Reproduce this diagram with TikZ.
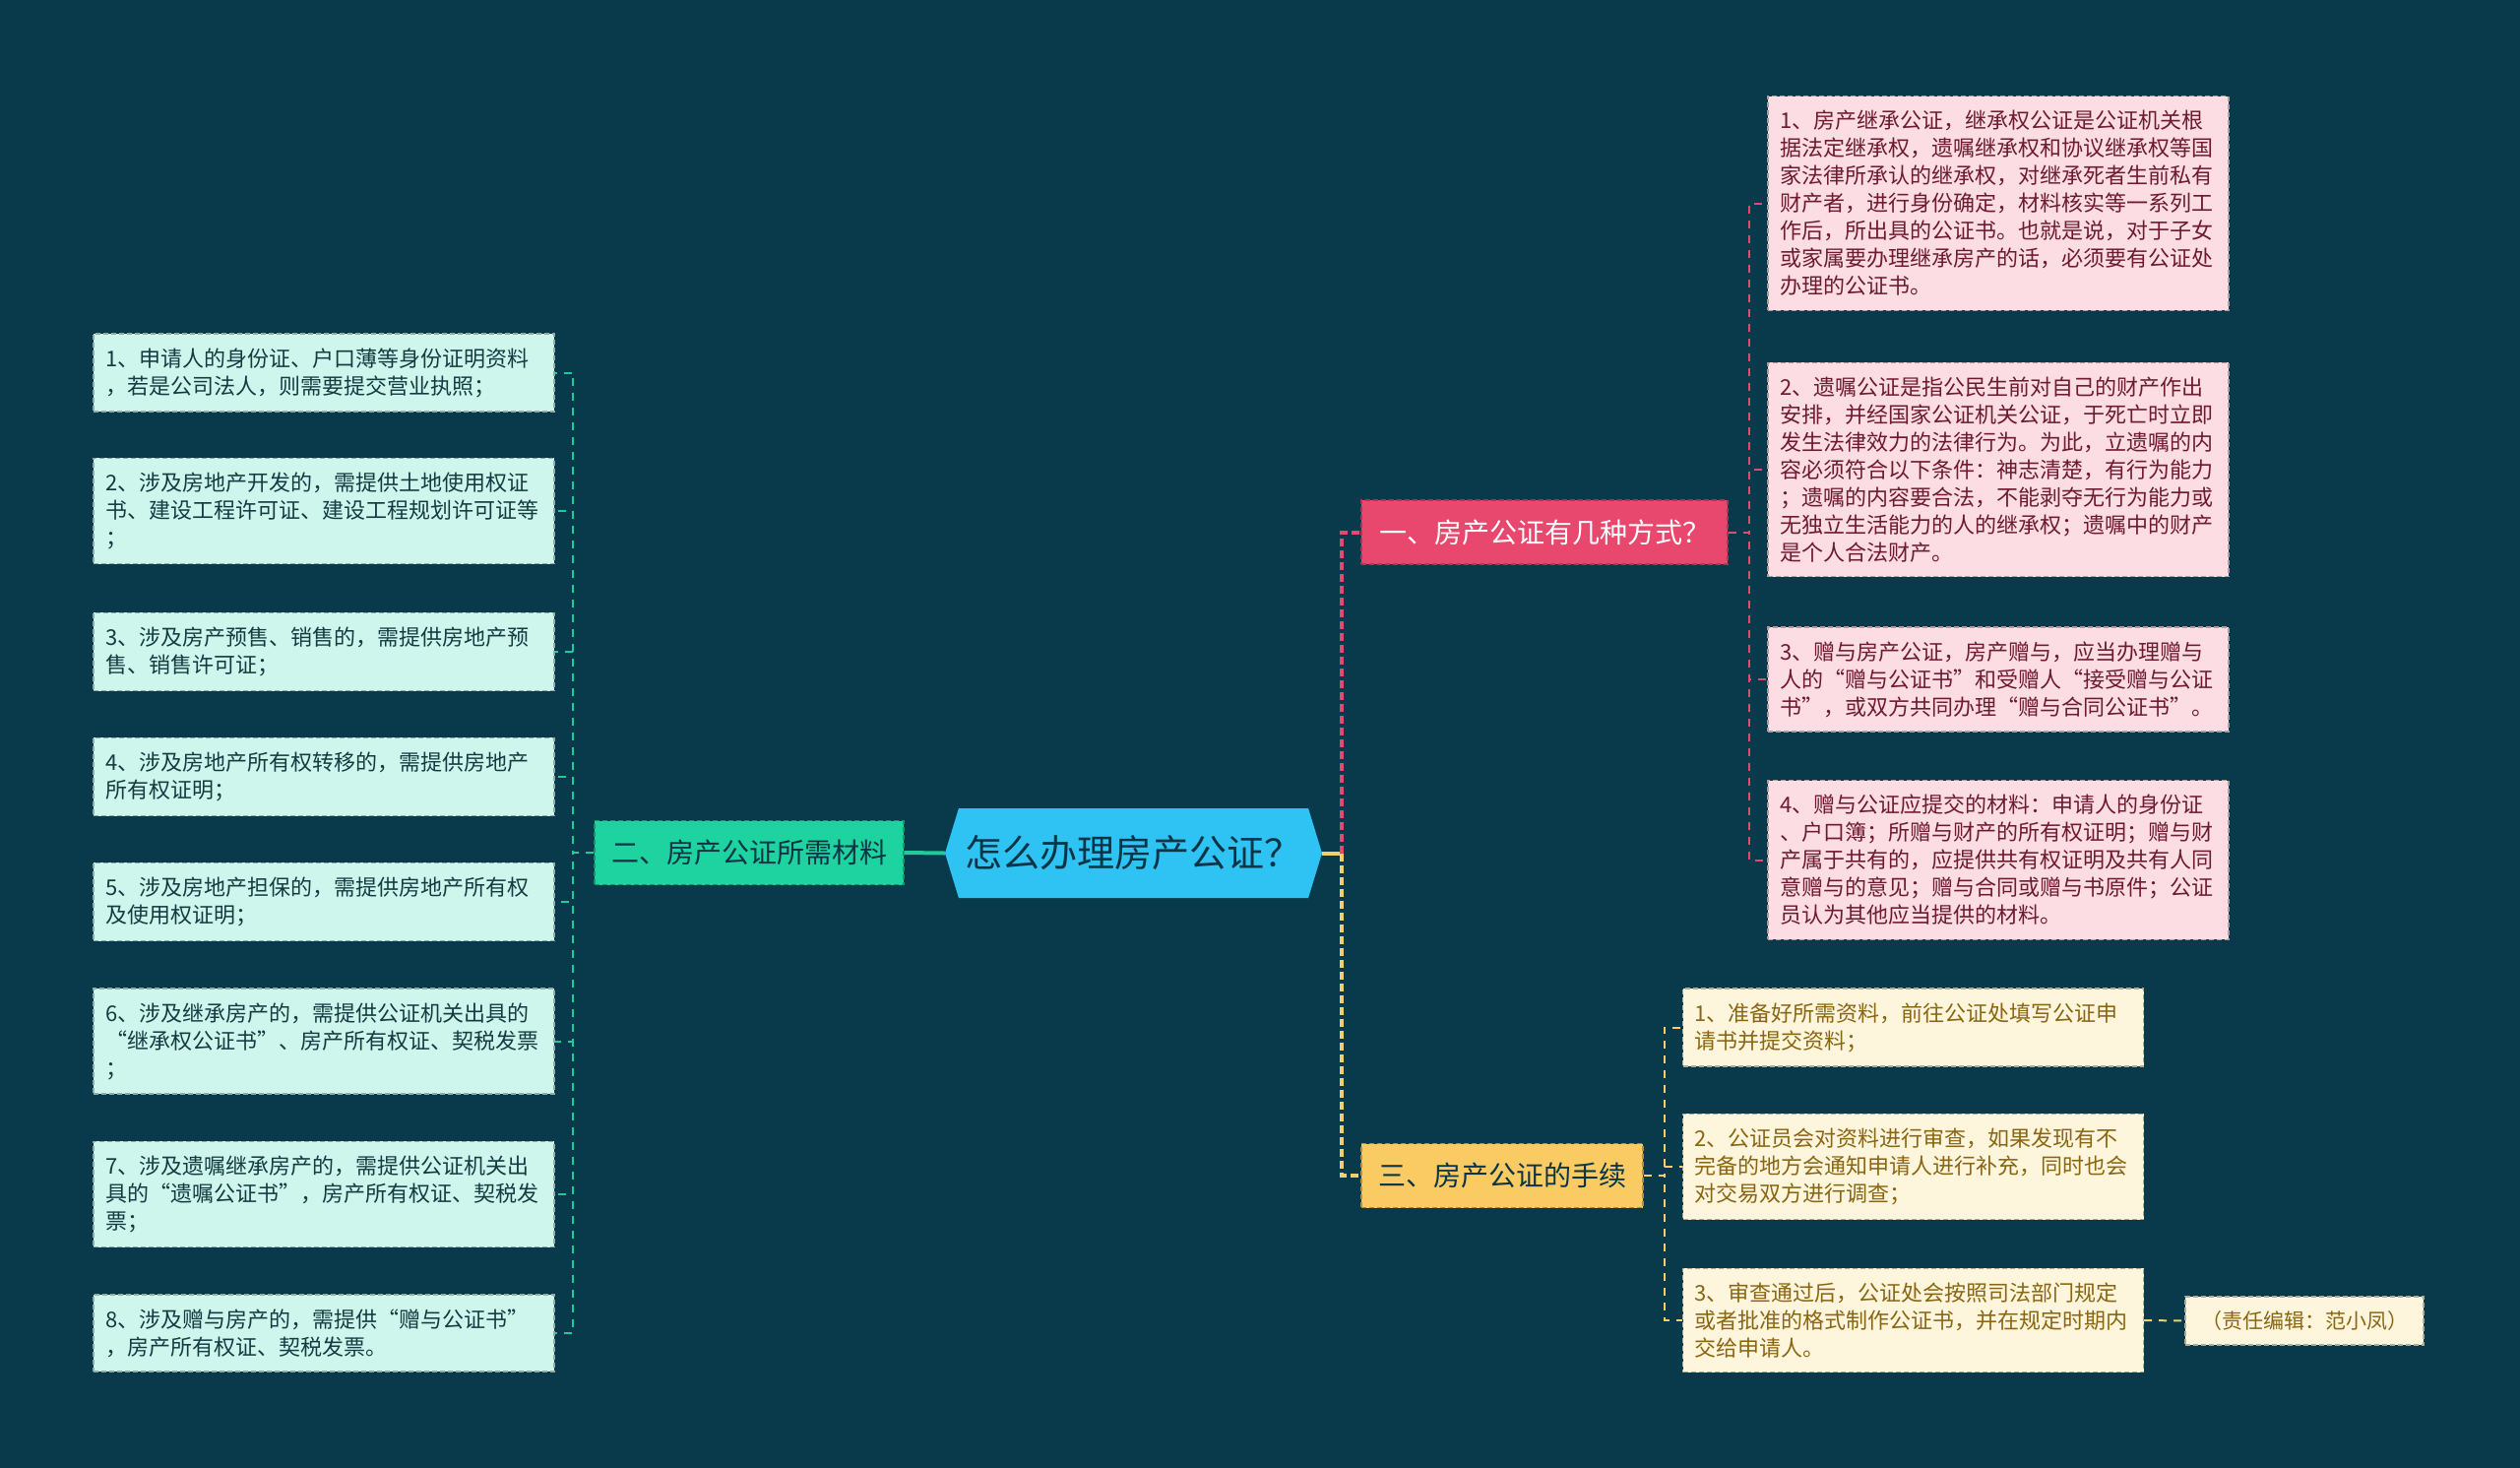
\documentclass[tikz,border=0pt]{standalone}
\usepackage{fontspec}
\setmainfont{Noto Sans CJK SC}
\usetikzlibrary{shapes.symbols}

\definecolor{bgblue}{HTML}{083A4C}
\definecolor{rootfill}{HTML}{2EC3F2}
\definecolor{inkdark}{HTML}{0B3446}
\definecolor{greenfill}{HTML}{1ED39F}
\definecolor{greenline}{HTML}{22C99A}
\definecolor{mintfill}{HTML}{CFF6EC}
\definecolor{mintink}{HTML}{123C42}
\definecolor{pinkfill}{HTML}{E8476E}
\definecolor{pinkline}{HTML}{DE4A72}
\definecolor{rosefill}{HTML}{FCDDE3}
\definecolor{roseink}{HTML}{6E1A30}
\definecolor{goldfill}{HTML}{FACB63}
\definecolor{goldline}{HTML}{F3CE6A}
\definecolor{creamfill}{HTML}{FDF5DC}
\definecolor{creamink}{HTML}{8A6612}

\begin{document}
\begin{tikzpicture}[x=1pt,y=-1pt,
  leaf/.style={line width=1.2pt,dash pattern=on 5pt off 3pt,align=left,
    text width=444pt,inner xsep=12pt,inner ysep=14.5pt,
    font=\fontsize{22}{28}\selectfont},
  mintleaf/.style={leaf,fill=mintfill,draw=mintfill!70!black,text=mintink},
  roseleaf/.style={leaf,fill=rosefill,draw=rosefill!70!black,text=roseink},
  creamleaf/.style={leaf,fill=creamfill,draw=creamfill!70!black,text=creamink},
  branch/.style={minimum height=65pt,inner sep=0pt,line width=1.2pt,
    dash pattern=on 5pt off 3pt,font=\fontsize{28}{34}\selectfont},
  trunk/.style={line width=4pt,dash pattern=on 8pt off 4pt},
  twig/.style={line width=2pt,dash pattern=on 8pt off 7pt}]

  \fill[bgblue] (0,0) rectangle (2560,1491);
  \useasboundingbox (0,0) rectangle (2560,1491);

  % centre and the three branches
  \node[shape=signal,signal to=west and east,signal pointer angle=146,
    fill=rootfill,text=inkdark,minimum width=383pt,minimum height=91pt,
    inner sep=0pt,font=\fontsize{38}{42}\selectfont] (root) at (1151.5,866.5) {怎么办理房产公证？};
  \node[branch,fill=pinkfill,draw=pinkfill!75!black,text=white,
    minimum width=372pt] (way) at (1569,540.5) {一、房产公证有几种方式？};
  \node[branch,fill=greenfill,draw=greenfill!70!black,text=inkdark,
    minimum width=314pt] (need) at (761,866) {二、房产公证所需材料};
  \node[branch,fill=goldfill,draw=goldfill!70!black,text=inkdark,
    minimum width=286pt] (step) at (1526,1194) {三、房产公证的手续};

  \coordinate (hub) at (1363,866.5);
  \draw[greenline,line width=4pt] (root.west) -- (need.east);
  \draw[goldline,line width=4pt] (root.east) -- (hub);
  \draw[trunk,pinkline] (hub) |- (way.west);
  \draw[trunk,goldline] (hub) |- (step.west);

  % kinds of notarisation
  \foreach \n/\y/\txt in {
    1/206.5/{1、房产继承公证，继承权公证是公证机关根\\据法定继承权，遗嘱继承权和协议继承权等国\\家法律所承认的继承权，对继承死者生前私有\\财产者，进行身份确定，材料核实等一系列工\\作后，所出具的公证书。也就是说，对于子女\\或家属要办理继承房产的话，必须要有公证处\\办理的公证书。},
    2/477/{2、遗嘱公证是指公民生前对自己的财产作出\\安排，并经国家公证机关公证，于死亡时立即\\发生法律效力的法律行为。为此，立遗嘱的内\\容必须符合以下条件：神志清楚，有行为能力\\；遗嘱的内容要合法，不能剥夺无行为能力或\\无独立生活能力的人的继承权；遗嘱中的财产\\是个人合法财产。},
    3/690/{3、赠与房产公证，房产赠与，应当办理赠与\\人的“赠与公证书”和受赠人“接受赠与公证\\书”，或双方共同办理“赠与合同公证书”。},
    4/873.5/{4、赠与公证应提交的材料：申请人的身份证\\、户口簿；所赠与财产的所有权证明；赠与财\\产属于共有的，应提供共有权证明及共有人同\\意赠与的意见；赠与合同或赠与书原件；公证\\员认为其他应当提供的材料。}} {
    \node[roseleaf] (r\n) at (2030,\y) {\txt};
    \draw[twig,pinkline] (way.east) -- ++(21,0) |- (r\n.west);
  }

  % required materials
  \foreach \n/\y/\txt in {
    1/378.5/{1、申请人的身份证、户口薄等身份证明资料\\，若是公司法人，则需要提交营业执照；},
    2/519/{2、涉及房地产开发的，需提供土地使用权证\\书、建设工程许可证、建设工程规划许可证等\\；},
    3/662/{3、涉及房产预售、销售的，需提供房地产预\\售、销售许可证；},
    4/789/{4、涉及房地产所有权转移的，需提供房地产\\所有权证明；},
    5/916/{5、涉及房地产担保的，需提供房地产所有权\\及使用权证明；},
    6/1057.5/{6、涉及继承房产的，需提供公证机关出具的\\“继承权公证书”、房产所有权证、契税发票\\；},
    7/1213/{7、涉及遗嘱继承房产的，需提供公证机关出\\具的“遗嘱公证书”，房产所有权证、契税发\\票；},
    8/1354/{8、涉及赠与房产的，需提供“赠与公证书”\\，房产所有权证、契税发票。}} {
    \node[mintleaf] (l\n) at (329,\y) {\txt};
    \draw[twig,greenline] (need.west) -- ++(-21,0) |- (l\n.east);
  }

  % procedure
  \foreach \n/\y/\txt in {
    1/1043.5/{1、准备好所需资料，前往公证处填写公证申\\请书并提交资料；},
    2/1185/{2、公证员会对资料进行审查，如果发现有不\\完备的地方会通知申请人进行补充，同时也会\\对交易双方进行调查；},
    3/1341/{3、审查通过后，公证处会按照司法部门规定\\或者批准的格式制作公证书，并在规定时期内\\交给申请人。}} {
    \node[creamleaf] (s\n) at (1943.5,\y) {\txt};
    \draw[twig,goldline] (step.east) -- ++(21,0) |- (s\n.west);
  }
  \node[creamleaf,text width=,minimum width=242pt,inner xsep=8pt,
    font=\fontsize{21}{26}\selectfont] (editor) at (2341,1341.5) {（责任编辑：范小凤）};
  \draw[twig,goldline] (s3.east) -- (editor.west);
\end{tikzpicture}
\end{document}
